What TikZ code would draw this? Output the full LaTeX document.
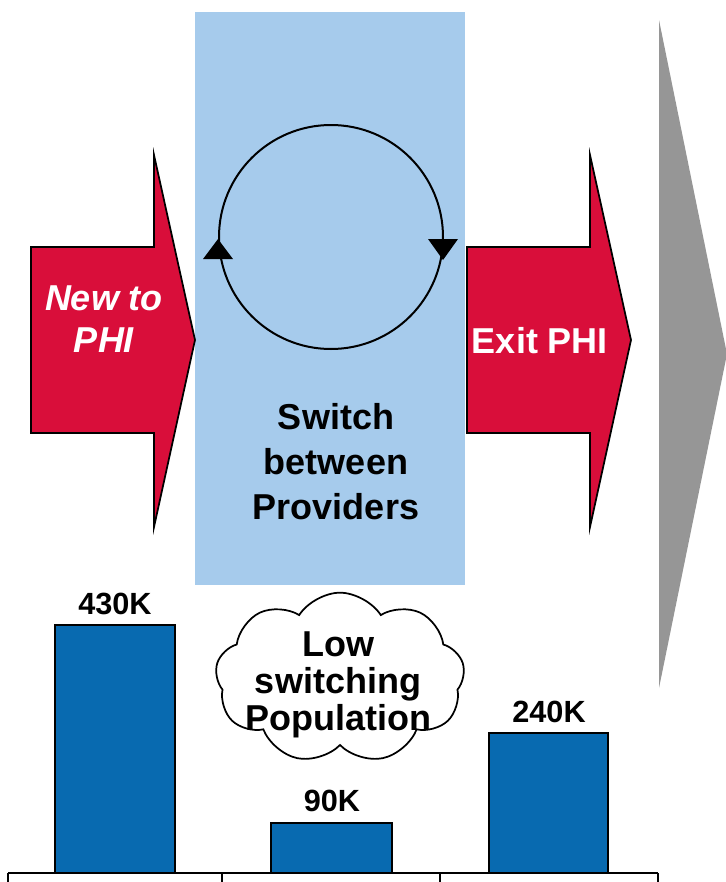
\documentclass[tikz,border=0pt]{standalone}
\usepackage{fontspec}
\setmainfont{Liberation Sans}
\usetikzlibrary{shapes.symbols}
\definecolor{phired}{RGB}{217,14,58}
\definecolor{paneblue}{RGB}{166,203,236}
\definecolor{barblue}{RGB}{8,106,176}
\definecolor{flowgrey}{RGB}{150,150,150}
\tikzset{
  blockarrow/.style={fill=phired, draw=black, line width=1.3pt, line join=miter},
  bar/.style={fill=barblue, draw=black, line width=1.3pt},
  bigtext/.style={font=\fontsize{27}{33.75}\selectfont\bfseries, align=center, inner sep=0pt},
  arrowtext/.style={bigtext, text=white, font=\fontsize{27}{32}\selectfont\bfseries\itshape},
  valuelabel/.style={font=\fontsize{23}{27}\selectfont\bfseries, inner sep=0pt},
  axisline/.style={line width=1.5pt}
}
\begin{document}
\begin{tikzpicture}[x=0.75pt,y=-0.75pt]
\useasboundingbox (0,0) rectangle (725,882);

% grey chevron on the right
\fill[flowgrey] (659,20) -- (727,354) -- (659,688) -- cycle;

% switching panel
\fill[paneblue] (195,12) rectangle (465,585);

% entry and exit block arrows
\draw[blockarrow] (31,247) -- (154,247) -- (154,155) -- (195,340) -- (154,527) -- (154,433) -- (31,433) -- cycle;
\draw[blockarrow] (467,247) -- (590,247) -- (590,155) -- (631,340) -- (590,527) -- (590,433) -- (467,433) -- cycle;
\node[arrowtext] (newphi) at (104,319) {New to\\PHI};
\node[bigtext, text=white] (exitphi) at (540,341) {Exit PHI};

% switching cycle
\draw[line width=1.5pt] (331,237) circle[radius=112];
\fill (218,239) -- (233,259) -- (203,259) -- cycle;
\fill (443,260) -- (428,239) -- (458,239) -- cycle;
\node[bigtext] (switch) at (336,462) {Switch\\between\\Providers};

% bars
\draw[bar] (55,873) rectangle (175,625);
\draw[bar] (271,873) rectangle (392,823);
\draw[bar] (489,873) rectangle (608,733);
\node[valuelabel] (v1) at (115,604) {430K};
\node[valuelabel] (v2) at (332,801) {90K};
\node[valuelabel] (v3) at (549,712) {240K};

% note cloud
\node[cloud, draw, fill=white, line width=1.3pt, cloud puffs=9, cloud puff arc=115,
      minimum width=187pt, minimum height=128pt, cloud ignores aspect] (cloud) at (340,678) {};
\node[bigtext, font=\fontsize{27}{27.75}\selectfont\bfseries] (low) at (338,685) {Low\\switching\\Population};

% axis
\draw[axisline] (8,873) -- (658,873);
\foreach \t in {8,222,440,658} \draw[axisline] (\t,873) -- (\t,884);
\end{tikzpicture}
\end{document}
